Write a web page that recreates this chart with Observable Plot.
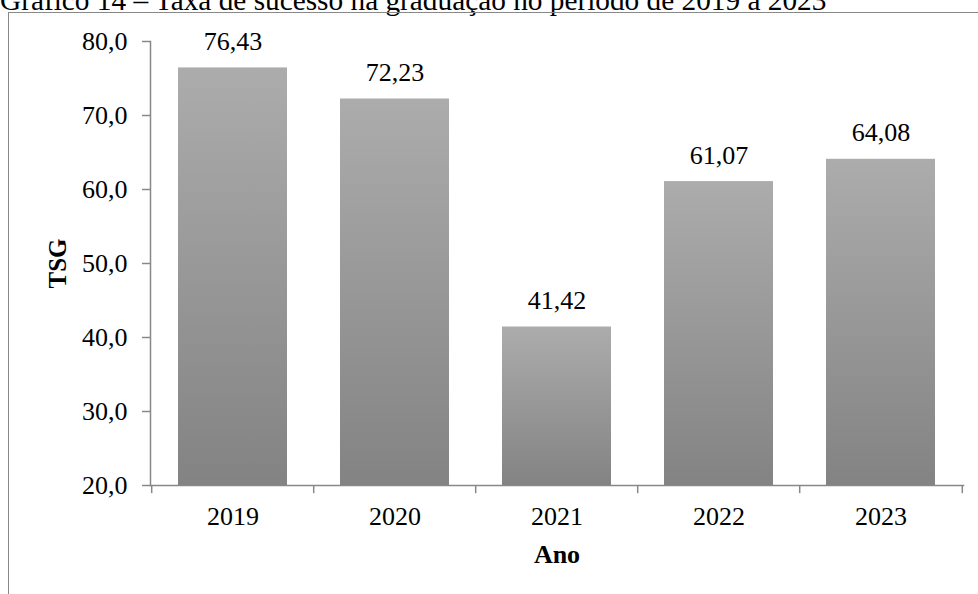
<!DOCTYPE html>
<html>
<head>
<meta charset="utf-8">
<script src="https://cdn.jsdelivr.net/npm/d3@7"></script>
<script src="https://cdn.jsdelivr.net/npm/@observablehq/plot@0.6"></script>
<style>
  html, body { margin: 0; padding: 0; background: #fff; overflow: hidden; }
  #wrap { position: relative; width: 978px; height: 594px; font-family: "Liberation Serif", "Times New Roman", serif; overflow: hidden; }
  #title { position: absolute; left: 0; top: -16px; font-size: 29.3px; line-height: normal; white-space: nowrap; color: #000; }
  #frame { position: absolute; left: 8px; top: 12px; width: 990px; height: 600px; border: 1px solid #888; box-sizing: border-box; }
  #chart { position: absolute; left: 0; top: 0; }
</style>
</head>
<body>
<div id="wrap">
  <div id="title">Gráfico 14 – Taxa de sucesso na graduação no período de 2019 a 2023</div>
  <div id="frame"></div>
  <div id="chart"></div>
</div>
<script>
const years = ["2019", "2020", "2021", "2022", "2023"];
const tsg = [76.43, 72.23, 41.42, 61.07, 64.08];
const yTicks = [20, 30, 40, 50, 60, 70, 80];

const data = years.map((y, i) => ({year: y, value: tsg[i]}));
const fmt = v => v.toFixed(1).replace(".", ",");
const fmt2 = v => v.toFixed(2).replace(".", ",");

const FF = "'Liberation Serif', 'Times New Roman', serif";
const W = 978, H = 594;
const mL = 150, mR = 15, mT = 41, mB = 109;
const step = (W - mL - mR) / years.length;

const chart = Plot.plot({
  width: W,
  height: H,
  marginLeft: mL,
  marginRight: mR,
  marginTop: mT,
  marginBottom: mB,
  style: {fontFamily: FF, fontSize: "26px", color: "#000", background: "transparent", overflow: "visible"},
  x: {domain: years, paddingInner: 0.33, paddingOuter: 0.165, axis: null},
  y: {domain: [20, 80], axis: null},
  marks: [
    Plot.barY(data, {x: "year", y1: 20, y2: "value", fill: "url(#barGrad)", style: "filter: drop-shadow(0px 0px 2px rgba(0,0,0,0.25))"}),
    Plot.axisY({ticks: yTicks, tickFormat: fmt, tickSize: 8, tickPadding: 15, label: null, stroke: "#888", strokeWidth: 1.5, strokeOpacity: 1, fontSize: 26, fontFamily: FF, fill: "#000"}),
    Plot.frame({anchor: "left", stroke: "#888", strokeWidth: 1.5}),
    Plot.frame({anchor: "bottom", stroke: "#888", strokeWidth: 1.5}),
    Plot.axisX({tickSize: 0, tickPadding: 21, label: null, fontSize: 26, fontFamily: FF, fill: "#000"}),
    Plot.ruleX(years, {x: d => d, y1: 20, y2: 18.9, dx: -step / 2, stroke: "#888", strokeWidth: 1.5, clip: false}),
    Plot.ruleX(years.slice(-1), {x: d => d, y1: 20, y2: 18.9, dx: step / 2, stroke: "#888", strokeWidth: 1.5, clip: false}),
    Plot.text(data, {x: "year", y: "value", text: d => fmt2(d.value), lineAnchor: "bottom", dy: -18, fontSize: 26, fontFamily: FF, fill: "#000"}),
    Plot.text(["TSG"], {frameAnchor: "left", textAnchor: "middle", dx: -93, rotate: -90, fontWeight: "bold", fontSize: 25, fontFamily: FF, fill: "#000"}),
    Plot.text(["Ano"], {frameAnchor: "bottom", textAnchor: "middle", dy: 77, fontWeight: "bold", fontSize: 26, fontFamily: FF, fill: "#000"})
  ]
});

const svg = d3.select(chart);
const defs = svg.insert("defs", ":first-child");
const g = defs.append("linearGradient").attr("id", "barGrad").attr("x1", 0).attr("y1", 0).attr("x2", 0).attr("y2", 1);
g.append("stop").attr("offset", "0%").attr("stop-color", "#acacac");
g.append("stop").attr("offset", "100%").attr("stop-color", "#838383");

document.getElementById("chart").appendChild(chart);
</script>
</body>
</html>
